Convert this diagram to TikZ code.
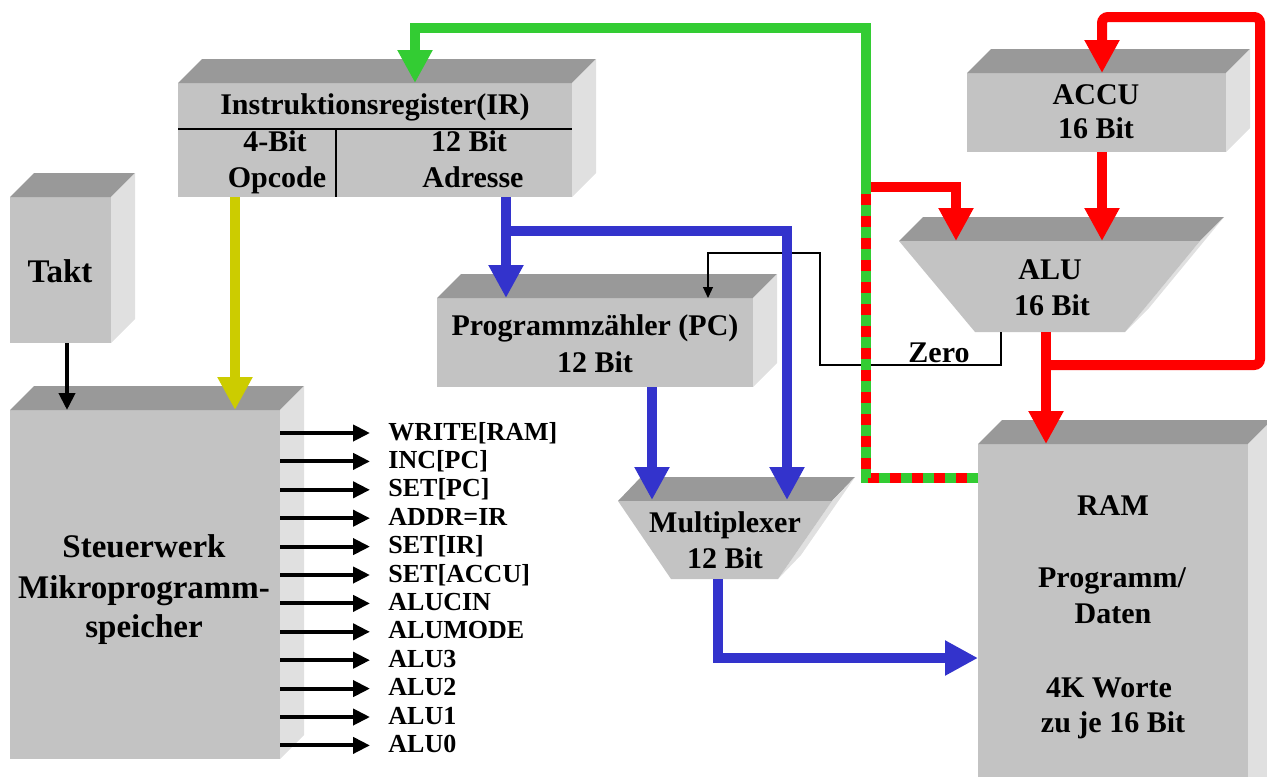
\documentclass[tikz,border=0pt]{standalone}
\usepackage{fontspec}
\setmainfont{Liberation Serif}
\usetikzlibrary{arrows.meta,calc,fit}
\definecolor{frontc}{HTML}{C3C3C3}
\definecolor{topc}{HTML}{999999}
\definecolor{sidec}{HTML}{E0E0E0}
\definecolor{busred}{HTML}{FF0000}
\definecolor{busgreen}{HTML}{33CC33}
\definecolor{busblue}{HTML}{3333CC}
\definecolor{busyellow}{HTML}{CCCC00}
\newcommand\cubefaces[1]{%
  \fill[topface] (#1.north west) -- ++(24,-24) -- ($(#1.north east)+(24,-24)$) -- (#1.north east) -- cycle;
  \fill[sideface] (#1.north east) -- ++(24,-24) -- ($(#1.south east)+(24,-24)$) -- (#1.south east) -- cycle;
}
\begin{document}
\begin{tikzpicture}[x=0.5pt,y=-0.5pt,
  front/.style={fill=frontc,inner sep=0pt,outer sep=0pt},
  topface/.style={fill=topc},
  sideface/.style={fill=sidec},
  lbl/.style={font=\bfseries\fontsize{15}{18}\selectfont,anchor=base,inner sep=0pt},
  biglbl/.style={lbl,font=\bfseries\fontsize{16.5}{20}\selectfont},
  siglbl/.style={font=\bfseries\fontsize{13}{15}\selectfont,anchor=base west,inner sep=0pt},
  bus/.style={line width=5pt,-{Triangle[width=16.5pt,length=16.5pt]}},
  busline/.style={line width=5pt},
  sig/.style={line width=2pt,-{Triangle[width=8pt,length=8.5pt]}},
  zeroline/.style={line width=0.6pt,-{Triangle[width=5pt,length=5.5pt]}},
]
\useasboundingbox (0,0) rectangle (1267,776);
\clip (0,0) rectangle (1267,776);

% ---------- boxes ----------
\node[front, fit={(10,197) (111,343)}] (takt) {};
\cubefaces{takt}
\node[front, fit={(10,410) (280,759)}] (sw) {};
\cubefaces{sw}
\node[front, fit={(178,83) (572,197)}] (ir) {};
\cubefaces{ir}
\draw[line width=0.8pt] (ir.west |- 0,129) -- (ir.east |- 0,129);
\draw[line width=0.8pt] (336,129) -- (336,197);
\node[front, fit={(437,298) (753,387)}] (pc) {};
\cubefaces{pc}
\node[front, fit={(967,73) (1226,152)}] (accu) {};
\cubefaces{accu}
\node[front, fit={(978,444) (1248,800)}] (ram) {};
\cubefaces{ram}

% ALU trapezoid
\fill[topface] (899,241) -- (923,217) -- (1224,217) -- (1200,241) -- cycle;
\fill[sideface] (1200,241) -- (1224,217) -- (1149,308) -- (1125,332) -- cycle;
\fill[frontc] (899,241) -- (1200,241) -- (1125,332) -- (975,332) -- cycle;
% Multiplexer trapezoid
\fill[topface] (618,501) -- (641,477) -- (855,477) -- (832,501) -- cycle;
\fill[sideface] (832,501) -- (855,477) -- (801,555) -- (778,579) -- cycle;
\fill[frontc] (618,501) -- (832,501) -- (778,579) -- (671,579) -- cycle;

% ---------- labels ----------
\node[biglbl] (taktl) at (60,282) {Takt};
\node[biglbl] (sw1) at (144,557) {Steuerwerk};
\node[biglbl] (sw2) at (144,598) {Mikroprogramm-};
\node[biglbl] (sw3) at (144,637) {speicher};
\node[lbl] (ir1) at (375,114) {Instruktionsregister(IR)};
\node[lbl] (ir2) at (275,151) {4-Bit};
\node[lbl] (ir3) at (277,187) {Opcode};
\node[lbl] (ir4) at (469,151) {12 Bit};
\node[lbl] (ir5) at (473,187) {Adresse};
\node[lbl] (pc1) at (595,335) {Programmzähler (PC)};
\node[lbl] (pc2) at (595,372) {12 Bit};
\node[lbl] (acc1) at (1096,104) {ACCU};
\node[lbl] (acc2) at (1096,138) {16 Bit};
\node[lbl] (alu1) at (1050,279) {ALU};
\node[lbl] (alu2) at (1052,315) {16 Bit};
\node[lbl] (mux1) at (725,532) {Multiplexer};
\node[lbl] (mux2) at (725,568) {12 Bit};
\node[lbl] (ram1) at (1113,515) {RAM};
\node[lbl] (ram2) at (1112,587) {Programm/};
\node[lbl] (ram3) at (1113,623) {Daten};
\node[lbl] (ram4) at (1109,697) {4K Worte};
\node[lbl] (ram5) at (1113,732) {zu je 16 Bit};
\node[lbl] (zero) at (939,362) {Zero};

% ---------- ports ----------
\coordinate (taktOut) at (67,343);
\coordinate (swClk) at (67,410);
\coordinate (irOp) at (235,197);
\coordinate (swIn) at (235,410);
\coordinate (irIn) at (415,83);
\coordinate (junc) at (866,187);
\coordinate (ramData) at (978,478);
\coordinate (aluA) at (956,241);
\coordinate (aluB) at (1102,241);
\coordinate (accOut) at (1102,152);
\coordinate (accIn) at (1102,73);
\coordinate (aluOut) at (1046,332);
\coordinate (ramIn) at (1046,444);
\coordinate (aluZ) at (1001,332);
\coordinate (irAd) at (506,197);
\coordinate (pcIn) at (506,298);
\coordinate (pcInc) at (708,298);
\coordinate (pcOut) at (652,387);
\coordinate (muxA) at (652,500);
\coordinate (muxB) at (787,500);
\coordinate (muxOut) at (718,579);
\coordinate (ramAddr) at (978,658);

% ---------- connectors ----------
\draw[zeroline] (aluZ) -- (1001,365) -- (820,365) -- (820,253) -- (708,253) -- (pcInc);
\draw[sig] (taktOut) -- (swClk);
\draw[bus,busyellow] (irOp) -- (swIn);
\draw[bus,busblue] (irAd) -- (pcIn);
\draw[bus,busblue] (506,231) -- (787,231) -- (muxB);
\draw[bus,busblue] (pcOut) -- (muxA);
\draw[bus,busblue] (muxOut) -- (718,658) -- (ramAddr);
\draw[bus,busred] (accOut) -- (aluB);
\draw[bus,busred] (aluOut) -- (ramIn);
\draw[bus,busred,rounded corners=3pt] (1046,365) -- (1260,365) -- (1260,17) -- (1102,17) -- (accIn);
\draw[bus,busred] (ramData) -- (866,478) -- (junc) -- (956,187) -- (aluA);
\draw[busline,busgreen,dash pattern=on 5.5pt off 5.5pt] (ramData) -- (866,478) -- (junc);
\draw[bus,busgreen] (junc) -- (866,28) -- (415,28) -- (irIn);

% ---------- control signals ----------
\foreach \t [count=\i from 0] in {WRITE[RAM],INC[PC],SET[PC],ADDR=IR,SET[IR],SET[ACCU],ALUCIN,ALUMODE,ALU3,ALU2,ALU1,ALU0}{
  \pgfmathsetmacro\yy{433+28.4*\i}
  \coordinate (so\i) at (280,\yy);
  \coordinate (se\i) at (370,\yy);
  \draw[sig] (so\i) -- (se\i);
  \node[siglbl] (s\i) at (388,\yy+7) {\t};
}
\end{tikzpicture}
\end{document}
